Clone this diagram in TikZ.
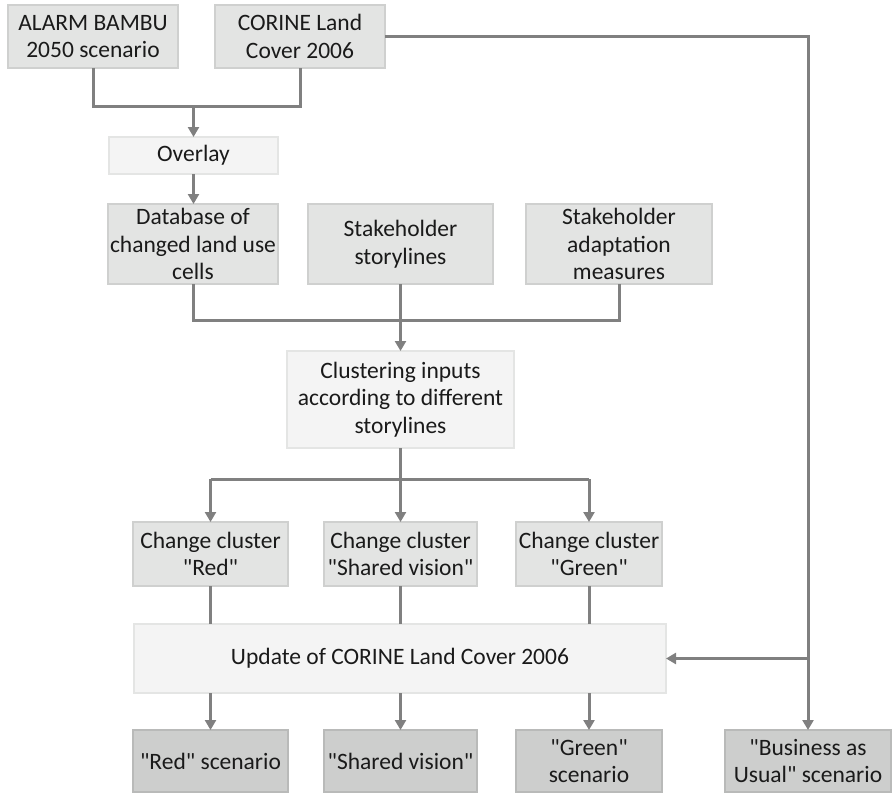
\documentclass[tikz,border=0pt]{standalone}
\usepackage{fontspec}
\setmainfont{Carlito}[Ligatures=TeXOff]
\usetikzlibrary{arrows.meta}

\definecolor{boxfill}{HTML}{E3E4E3}
\definecolor{boxline}{HTML}{CFD0CF}
\definecolor{procfill}{HTML}{F4F4F4}
\definecolor{procline}{HTML}{E4E5E4}
\definecolor{outfill}{HTML}{CDCECD}
\definecolor{outline}{HTML}{B9BAB9}
\definecolor{linkcol}{HTML}{808080}
\definecolor{textcol}{HTML}{1A1A1A}

\begin{document}
\begin{tikzpicture}[x=1pt, y=-1pt,
  box/.style={draw, line width=2pt, align=center, inner sep=0pt, outer sep=0pt,
              text=textcol, font=\fontsize{23.5}{27.5}\selectfont},
  inbox/.style={box, fill=boxfill, draw=boxline},
  procbox/.style={box, fill=procfill, draw=procline},
  outbox/.style={box, fill=outfill, draw=outline},
  link/.style={draw=linkcol, line width=3pt},
  arr/.style={link, -{Triangle[length=10pt, width=11pt]}}]

\useasboundingbox (0,0) rectangle (892,795);

% inputs
\node[inbox, minimum width=170pt, minimum height=63pt] (alarm) at (93,36.5) {ALARM BAMBU\\2050 scenario};
\node[inbox, minimum width=170pt, minimum height=63pt] (corine) at (300,36.5) {CORINE Land\\Cover 2006};
\node[procbox, minimum width=169pt, minimum height=37pt] (overlay) at (193.5,155.5) {Overlay};

% second row
\node[inbox, minimum width=170pt, minimum height=80pt] (database) at (193,244) {Database of\\changed land use\\cells};
\node[inbox, minimum width=185pt, minimum height=80pt] (story) at (400.5,244) {Stakeholder\\storylines};
\node[inbox, minimum width=186pt, minimum height=80pt] (adapt) at (619,244) {Stakeholder\\adaptation\\measures};

\node[procbox, minimum width=227pt, minimum height=97pt] (cluster) at (400.5,399.5) {Clustering inputs\\according to different\\storylines};

% change clusters
\node[inbox, minimum width=155pt, minimum height=64pt] (redc) at (210.5,554) {Change cluster\\"Red"};
\node[inbox, minimum width=153pt, minimum height=64pt] (sharedc) at (400.5,554) {Change cluster\\"Shared vision"};
\node[inbox, minimum width=146pt, minimum height=64pt] (greenc) at (589,554) {Change cluster\\"Green"};

\node[procbox, minimum width=532pt, minimum height=69pt] (update) at (400,658.5) {Update of CORINE Land Cover 2006};

% scenarios
\node[outbox, minimum width=155pt, minimum height=62pt] (reds) at (210.5,761) {"Red" scenario};
\node[outbox, minimum width=153pt, minimum height=62pt] (shareds) at (400.5,761) {"Shared vision"};
\node[outbox, minimum width=146pt, minimum height=62pt] (greens) at (589,761) {"Green"\\scenario};
\node[outbox, minimum width=166pt, minimum height=62pt] (bau) at (808,761) {"Business as\\Usual" scenario};

% connectors
\draw[link] (alarm.south) -- ++(0,38) -| (corine.south);
\coordinate (j1) at (193.5,107);
\draw[arr] (j1) -- (overlay.north);
\draw[arr] (overlay.south) -- (overlay.south |- database.north);

\draw[link] (database.south) -- ++(0,36) -| (adapt.south);
\draw[arr] (story.south) -- (cluster.north);

\draw[link] (cluster.south) -- ++(0,31) coordinate (j3);
\draw[link] (j3 -| redc.north) -- (j3 -| greenc.north);
\draw[arr] (j3 -| redc.north) -- (redc.north);
\draw[arr] (cluster.south) -- (sharedc.north);
\draw[arr] (j3 -| greenc.north) -- (greenc.north);

\draw[link] (redc.south) -- (redc.south |- update.north);
\draw[link] (sharedc.south) -- (sharedc.south |- update.north);
\draw[link] (greenc.south) -- (greenc.south |- update.north);

\draw[arr] (reds.north |- update.south) -- (reds.north);
\draw[arr] (shareds.north |- update.south) -- (shareds.north);
\draw[arr] (greens.north |- update.south) -- (greens.north);

\draw[arr] (corine.east) -| (bau.north);
\draw[arr] (bau.north |- update.east) -- (update.east);
\end{tikzpicture}
\end{document}
